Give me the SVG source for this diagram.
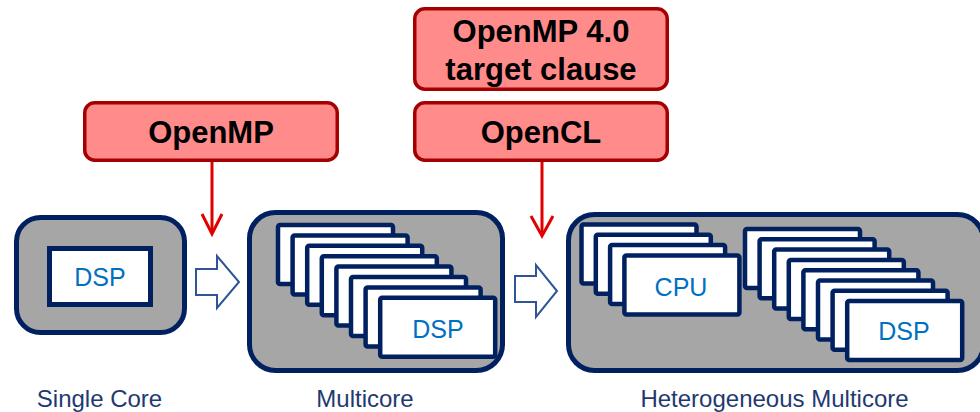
<svg xmlns="http://www.w3.org/2000/svg" width="980" height="412" viewBox="0 0 980 412">
<defs>
<style>
.outer{fill:#A6A6A6;stroke:#002060;stroke-width:5}
.core{fill:#FFFFFF;stroke:#002060;stroke-width:4.5}
.core1{fill:#FFFFFF;stroke:#002060;stroke-width:5}
.ctext{font-family:"Liberation Sans",Arial,sans-serif;font-size:25px;fill:#0070C0;text-anchor:middle}
.label{font-family:"Liberation Sans",Arial,sans-serif;font-size:24px;fill:#1F3A70;text-anchor:middle}
.api{fill:#FF8B8B;stroke:#A50000;stroke-width:3.5}
.apitext{font-family:"Liberation Sans",Arial,sans-serif;font-size:31px;font-weight:bold;fill:#000000;text-anchor:middle}
.red{fill:none;stroke:#E00000;stroke-width:3}
.block{fill:#FFFFFF;stroke:#2F5597;stroke-width:2}
</style>
</defs>
<rect width="980" height="412" fill="#FFFFFF"/>

<g id="single-core">
<rect class="outer" x="16.5" y="217.5" width="168" height="115" rx="24"/>
<rect class="core1" x="49.5" y="248.5" width="101" height="56"/>
<text class="ctext" x="100" y="286">DSP</text>
<text class="label" x="99.5" y="407">Single Core</text>
</g>

<g id="multicore">
<rect class="outer" x="249.5" y="212.5" width="253" height="158" rx="26"/>
<rect class="core" x="278" y="225" width="115" height="59" rx="2"/>
<rect class="core" x="292.6" y="235.4" width="115" height="59" rx="2"/>
<rect class="core" x="307.2" y="245.8" width="115" height="59" rx="2"/>
<rect class="core" x="321.8" y="256.2" width="115" height="59" rx="2"/>
<rect class="core" x="336.4" y="266.6" width="115" height="59" rx="2"/>
<rect class="core" x="351" y="277" width="115" height="59" rx="2"/>
<rect class="core" x="365.6" y="287.4" width="115" height="59" rx="2"/>
<rect class="core" x="380.2" y="297.8" width="115" height="59" rx="2"/>
<text class="ctext" x="438" y="338">DSP</text>
<text class="label" x="365" y="407">Multicore</text>
</g>

<g id="heterogeneous-multicore">
<rect class="outer" x="568.5" y="214.5" width="415" height="156" rx="26"/>
<rect class="core" x="581.5" y="224.5" width="115" height="59" rx="2"/>
<rect class="core" x="595.8" y="234.8" width="115" height="59" rx="2"/>
<rect class="core" x="610.1" y="245.1" width="115" height="59" rx="2"/>
<rect class="core" x="624.4" y="255.4" width="115" height="59" rx="2"/>
<text class="ctext" x="681" y="296">CPU</text>
<rect class="core" x="745" y="229" width="115" height="59" rx="2"/>
<rect class="core" x="759.6" y="239.3" width="115" height="59" rx="2"/>
<rect class="core" x="774.2" y="249.6" width="115" height="59" rx="2"/>
<rect class="core" x="788.8" y="259.9" width="115" height="59" rx="2"/>
<rect class="core" x="803.4" y="270.2" width="115" height="59" rx="2"/>
<rect class="core" x="818" y="280.5" width="115" height="59" rx="2"/>
<rect class="core" x="832.6" y="290.8" width="115" height="59" rx="2"/>
<rect class="core" x="847.2" y="301.1" width="115" height="59" rx="2"/>
<text class="ctext" x="904" y="340">DSP</text>
<text class="label" x="774.5" y="407">Heterogeneous Multicore</text>
</g>

<g id="openmp">
<rect class="api" x="84.75" y="102.75" width="252.5" height="57.5" rx="10"/>
<text class="apitext" x="211" y="143">OpenMP</text>
</g>

<g id="openmp40">
<rect class="api" x="414.75" y="8.75" width="252.5" height="80.5" rx="10"/>
<text class="apitext" x="541" y="42">OpenMP 4.0</text>
<text class="apitext" x="541" y="80">target clause</text>
</g>

<g id="opencl">
<rect class="api" x="414.75" y="102.75" width="252.5" height="57.5" rx="10"/>
<text class="apitext" x="541" y="143">OpenCL</text>
</g>

<g id="connectors">
<line class="red" x1="212" y1="162" x2="212" y2="233"/>
<polyline class="red" points="202,214 212,234 222,214"/>
<line class="red" x1="542" y1="162" x2="542" y2="235"/>
<polyline class="red" points="531,216 542,236 553,216"/>
<path class="block" d="M196,269 H217 V256 L239,282 L217,308 V295 H196 Z"/>
<path class="block" d="M515,276 H536 V265 L557,291 L536,317 V302 H515 Z"/>
</g>
</svg>
